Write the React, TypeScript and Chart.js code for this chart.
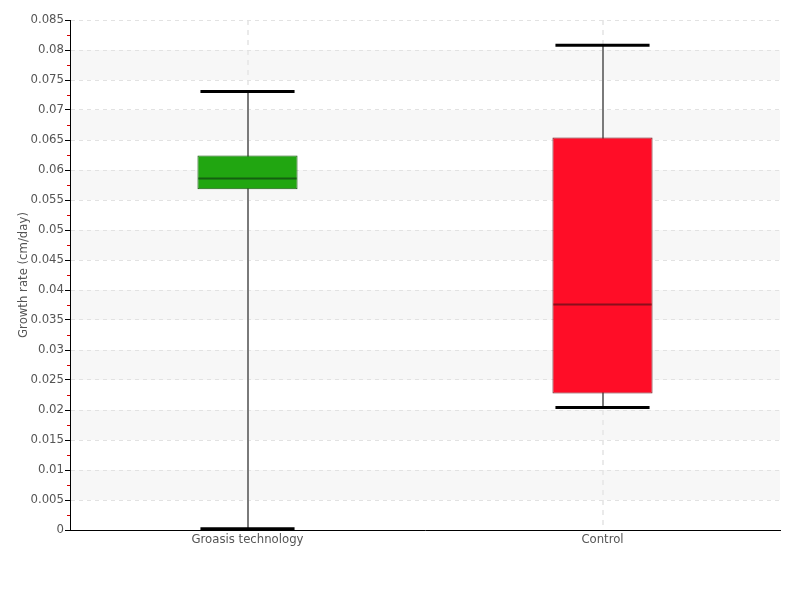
import React, { useEffect, useRef } from "react";
import { Chart, registerables } from "chart.js";

Chart.register(...registerables);

const categories = ["Groasis technology", "Control"];
const whiskerMin = [0.0002, 0.0204];
const q1 = [0.0568, 0.02275];
const median = [0.0586, 0.0376];
const q3 = [0.0624, 0.0654];
const whiskerMax = [0.0731, 0.0808];
const boxColors = ["#21a611", "#ff0d27"];
const boxBorders = ["#17540f", "#6e1a20"];
const medianColors = ["#146010", "#8a0f1c"];

const FONT = "'DejaVu Sans Condensed', 'Liberation Sans Narrow', 'Roboto', sans-serif";

const boxPlugin = {
  id: "boxExtras",
  beforeDraw(chart: any) {
    const { ctx, chartArea, scales } = chart;
    const y = scales.y;
    ctx.save();
    ctx.fillStyle = "#f7f7f7";
    for (let k = 0; k < 8; k++) {
      const lo = 0.005 + 0.01 * k;
      const hi = lo + 0.005;
      const yt = y.getPixelForValue(hi);
      const yb = y.getPixelForValue(lo);
      ctx.fillRect(chartArea.left, yt, chartArea.right - chartArea.left, yb - yt);
    }
    ctx.restore();
  },
  beforeDatasetsDraw(chart: any) {
    const { ctx, scales } = chart;
    const x = scales.x;
    const y = scales.y;
    ctx.save();
    ctx.strokeStyle = "#7a7a7a";
    ctx.lineWidth = 2;
    categories.forEach((_, i) => {
      const cx = Math.round(x.getPixelForValue(i));
      ctx.beginPath();
      ctx.moveTo(cx, y.getPixelForValue(whiskerMin[i]));
      ctx.lineTo(cx, y.getPixelForValue(whiskerMax[i]));
      ctx.stroke();
    });
    ctx.restore();
  },
  afterDatasetsDraw(chart: any) {
    const { ctx, scales } = chart;
    const x = scales.x;
    const y = scales.y;
    const meta = chart.getDatasetMeta(0);
    ctx.save();
    categories.forEach((_, i) => {
      const bar = meta.data[i];
      const half = bar.width / 2;
      const cx = x.getPixelForValue(i);
      ctx.strokeStyle = medianColors[i];
      ctx.lineWidth = 2;
      const my = y.getPixelForValue(median[i]);
      ctx.beginPath();
      ctx.moveTo(cx - half + 1, my);
      ctx.lineTo(cx + half - 1, my);
      ctx.stroke();
      ctx.strokeStyle = "#000000";
      ctx.lineWidth = 3;
      const capHalf = half - 3;
      [whiskerMin[i], whiskerMax[i]].forEach((v) => {
        const py = y.getPixelForValue(v);
        ctx.beginPath();
        ctx.moveTo(cx - capHalf, py);
        ctx.lineTo(cx + capHalf, py);
        ctx.stroke();
      });
    });
    ctx.restore();
  },
  afterDraw(chart: any) {
    const { ctx, chartArea, scales } = chart;
    const y = scales.y;
    ctx.save();
    ctx.strokeStyle = "#d40000";
    ctx.lineWidth = 1;
    for (let k = 0; k < 17; k++) {
      const v = 0.0025 + 0.005 * k;
      const py = Math.round(y.getPixelForValue(v)) + 0.5;
      ctx.beginPath();
      ctx.moveTo(chartArea.left - 3, py);
      ctx.lineTo(chartArea.left, py);
      ctx.stroke();
    }
    ctx.restore();
  },
};

export default function App() {
  const canvasRef = useRef<HTMLCanvasElement | null>(null);

  useEffect(() => {
    if (!canvasRef.current) return;
    const chart = new Chart(canvasRef.current, {
      type: "bar",
      data: {
        labels: categories,
        datasets: [
          {
            data: categories.map((_, i) => [q1[i], q3[i]]) as any,
            backgroundColor: boxColors,
            borderColor: boxBorders,
            borderWidth: 1,
            borderSkipped: false,
            barPercentage: 0.282,
            categoryPercentage: 1,
          },
        ],
      },
      options: {
        animation: false,
        responsive: false,
        maintainAspectRatio: false,
        layout: { padding: { left: 16, top: 20, right: 20, bottom: 0 } },
        plugins: {
          legend: { display: false },
          tooltip: { enabled: false },
        },
        scales: {
          x: {
            grid: {
              offset: false,
              color: "#eaeaea",
              lineWidth: 2,
              tickLength: 0,
              drawTicks: false,
            },
            border: { display: true, color: "#000000", width: 1, dash: [5, 5] } as any,
            ticks: {
              color: "#555555",
              font: { family: FONT, size: 13 },
              padding: 2,
            },
            afterFit(scale: any) {
              scale.height = 70;
            },
          },
          y: {
            min: 0,
            max: 0.085,
            ticks: {
              stepSize: 0.005,
              color: "#555555",
              font: { family: FONT, size: 13 },
              padding: 1,
              callback: (v: any) => String(+Number(v).toFixed(4)),
            },
            grid: {
              color: "#e2e2e2",
              tickColor: "#000000",
              tickLength: 5,
              tickBorderDash: [],
            } as any,
            border: { display: true, color: "#000000", width: 1, dash: [4, 4] } as any,
            title: {
              display: true,
              text: "Growth rate (cm/day)",
              color: "#555555",
              font: { family: FONT, size: 13 },
              padding: { top: 0, bottom: 0 },
            },
            afterFit(scale: any) {
              scale.width = 54;
            },
          },
        },
      },
      plugins: [boxPlugin],
    });
    return () => chart.destroy();
  }, []);

  return (
    <div style={{ position: "fixed", left: 0, top: 0, width: 800, height: 600, background: "#ffffff" }}>
      <canvas ref={canvasRef} width={800} height={600} style={{ width: 800, height: 600 }} />
    </div>
  );
}
